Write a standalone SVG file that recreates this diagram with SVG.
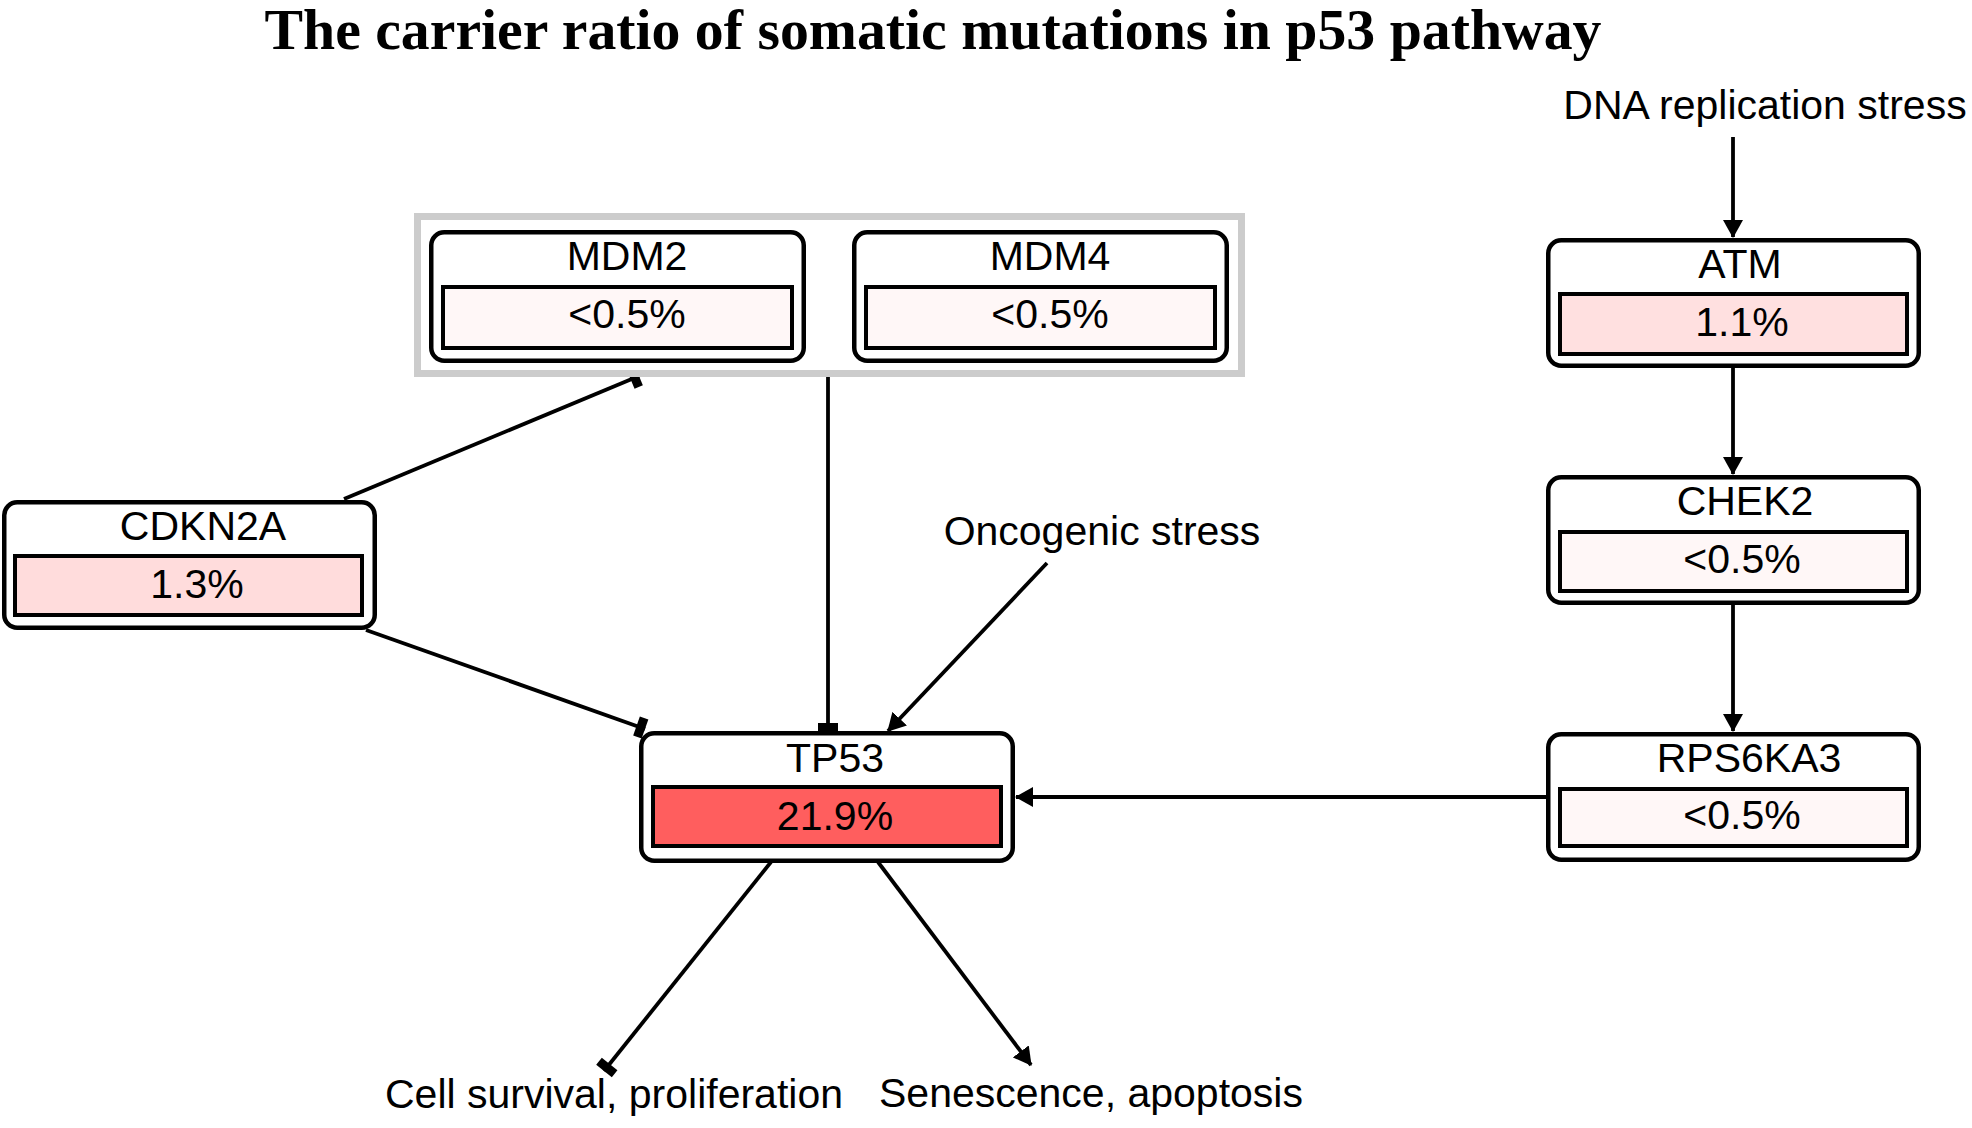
<svg xmlns="http://www.w3.org/2000/svg" width="1972" height="1128" viewBox="0 0 1972 1128">
<defs>
<style>
.node{fill:#fff;stroke:#000;stroke-width:4.5}
.bar{stroke:#000;stroke-width:4}
.lbl{font-family:"Liberation Sans",Arial,sans-serif;font-size:41px;fill:#000;text-anchor:middle}
.title{font-family:"Liberation Serif","Times New Roman",serif;font-size:58px;font-weight:bold;fill:#000;text-anchor:middle}
.edge{stroke:#000;stroke-width:3.8;fill:none}
.act{marker-end:url(#arrow)}
.inh{marker-end:url(#tbar)}
</style>
<marker id="arrow" markerUnits="userSpaceOnUse" viewBox="0 0 18 20" markerWidth="18" markerHeight="20" refX="17" refY="10" orient="auto">
<path d="M0,0 L18,10 L0,20 Z" fill="#000"/>
</marker>
<marker id="tbar" markerUnits="userSpaceOnUse" viewBox="-10 -11 11 22" markerWidth="11" markerHeight="22" refX="0" refY="0" orient="auto">
<path d="M-9,-10 H0 V10 H-9 Z" fill="#000"/>
</marker>
</defs>
<rect width="1972" height="1128" fill="#fff"/>
<text class="title" x="933" y="49" textLength="1337" lengthAdjust="spacingAndGlyphs">The carrier ratio of somatic mutations in p53 pathway</text>

<g id="connectors">
<line class="edge act" x1="1733" y1="137" x2="1733" y2="237"/>
<line class="edge act" x1="1733" y1="368" x2="1733" y2="474"/>
<line class="edge act" x1="1733" y1="605" x2="1733" y2="731"/>
<line class="edge act" x1="1546" y1="797" x2="1016" y2="797"/>
<line class="edge act" x1="1047" y1="563" x2="888" y2="731"/>
<line class="edge inh" x1="828" y1="377" x2="828" y2="732"/>
<line class="edge inh" x1="344" y1="499" x2="639" y2="376"/>
<line class="edge inh" x1="366" y1="630" x2="645" y2="729"/>
<line class="edge inh" x1="771" y1="862" x2="604" y2="1071"/>
<line class="edge act" x1="878" y1="862" x2="1031" y2="1065"/>
</g>

<g id="MDM_complex">
<rect x="417.5" y="216.5" width="824" height="157" fill="#fff" stroke="#cccccc" stroke-width="7"/>
</g>

<g id="MDM2">
<rect class="node" x="431.25" y="232.25" width="372.5" height="128.5" rx="13"/>
<rect class="bar" x="443" y="287" width="349" height="61" fill="#fff7f7"/>
<text class="lbl" x="627" y="270">MDM2</text>
<text class="lbl" x="627" y="328">&lt;0.5%</text>
</g>

<g id="MDM4">
<rect class="node" x="854.25" y="232.25" width="372.5" height="128.5" rx="13"/>
<rect class="bar" x="866" y="287" width="349" height="61" fill="#fff7f7"/>
<text class="lbl" x="1050" y="270">MDM4</text>
<text class="lbl" x="1050" y="328">&lt;0.5%</text>
</g>

<g id="CDKN2A">
<rect class="node" x="4.25" y="502.25" width="370.5" height="125.5" rx="13"/>
<rect class="bar" x="15" y="556" width="347" height="59" fill="#ffdcdc"/>
<text class="lbl" x="203" y="540">CDKN2A</text>
<text class="lbl" x="197" y="598">1.3%</text>
</g>

<g id="TP53">
<rect class="node" x="641.25" y="733.25" width="371.5" height="127.5" rx="13"/>
<rect class="bar" x="653" y="787" width="348" height="59" fill="#ff5e5e"/>
<text class="lbl" x="835" y="772">TP53</text>
<text class="lbl" x="835" y="830">21.9%</text>
</g>

<g id="ATM">
<rect class="node" x="1548.25" y="240.25" width="370.5" height="125.5" rx="13"/>
<rect class="bar" x="1560" y="294" width="347" height="60" fill="#ffe0e0"/>
<text class="lbl" x="1740" y="278">ATM</text>
<text class="lbl" x="1742" y="336">1.1%</text>
</g>

<g id="CHEK2">
<rect class="node" x="1548.25" y="477.25" width="370.5" height="125.5" rx="13"/>
<rect class="bar" x="1560" y="532" width="347" height="59" fill="#fff7f7"/>
<text class="lbl" x="1745" y="515">CHEK2</text>
<text class="lbl" x="1742" y="573">&lt;0.5%</text>
</g>

<g id="RPS6KA3">
<rect class="node" x="1548.25" y="734.25" width="370.5" height="125.5" rx="13"/>
<rect class="bar" x="1560" y="789" width="347" height="57" fill="#fff7f7"/>
<text class="lbl" x="1749" y="772">RPS6KA3</text>
<text class="lbl" x="1742" y="829">&lt;0.5%</text>
</g>

<g id="labels">
<text class="lbl" x="1765" y="119">DNA replication stress</text>
<text class="lbl" x="1102" y="545">Oncogenic stress</text>
<text class="lbl" x="614" y="1108">Cell survival, proliferation</text>
<text class="lbl" x="1091" y="1107">Senescence, apoptosis</text>
</g>
</svg>
